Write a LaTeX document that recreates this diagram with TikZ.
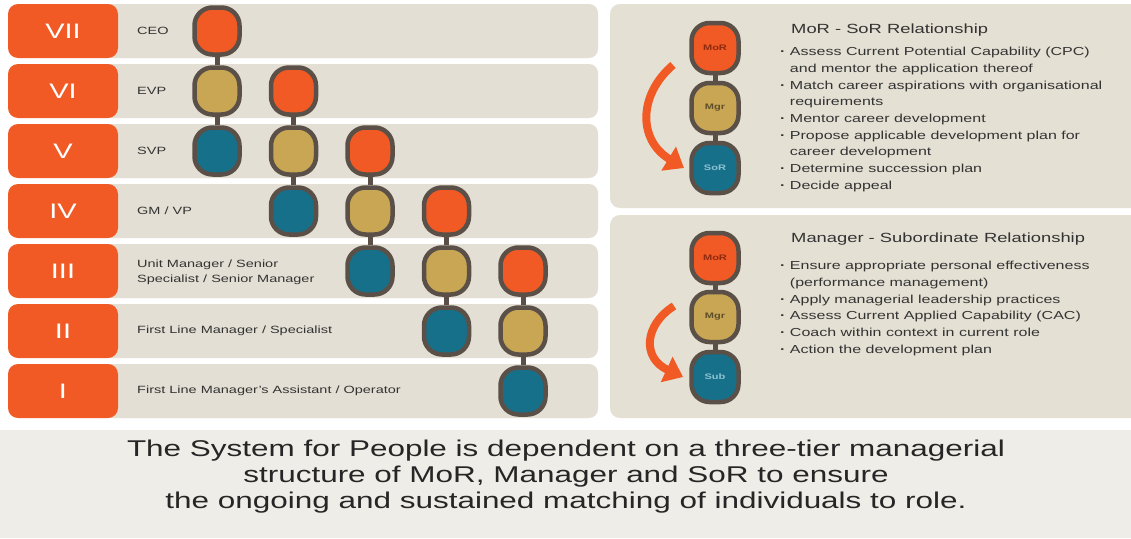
\documentclass[tikz,border=0pt]{standalone}
\usepackage{fontspec}
\setmainfont{Liberation Sans}[FakeStretch=1.38]
\usetikzlibrary{arrows.meta}

\definecolor{orng}{HTML}{F15A24}
\definecolor{tan}{HTML}{C8A654}
\definecolor{teal}{HTML}{17708A}
\definecolor{outl}{HTML}{5A5048}
\definecolor{bandgray}{HTML}{E3DFD4}
\definecolor{panelgray}{HTML}{E4E0D4}
\definecolor{footgray}{HTML}{EFEDE7}
\definecolor{txt}{HTML}{333333}
\definecolor{mortxt}{HTML}{8E2A10}
\definecolor{mgrtxt}{HTML}{5E4E2A}
\definecolor{sortxt}{HTML}{8CC2D2}

\newcommand\bul{{\bfseries·}}

\begin{document}
\begin{tikzpicture}[x=1pt,y=-1pt,
  band/.style={fill=bandgray, rounded corners=9pt},
  numbox/.style={fill=orng, rounded corners=10pt, minimum width=110pt,
    minimum height=54pt, inner sep=0pt, text=white,
    font=\fontsize{21}{21}\selectfont},
  rolelbl/.style={anchor=west, inner sep=0pt, text=txt, align=left,
    font=\fontsize{10.5}{15}\selectfont},
  pill/.style={draw=outl, line width=4.5pt, rounded corners=18pt,
    minimum width=45pt, minimum height=47pt, inner sep=0pt,
    font=\bfseries\fontsize{8}{8}\selectfont},
  bigpill/.style={minimum width=47pt, minimum height=50pt},
  po/.style={pill, fill=orng, text=mortxt},
  pt/.style={pill, fill=tan, text=mgrtxt},
  pb/.style={pill, fill=teal, text=sortxt},
  link/.style={draw=outl, line width=5pt},
  panel/.style={fill=panelgray, rounded corners=10pt},
  ptitle/.style={anchor=west, inner sep=0pt, text=txt,
    font=\fontsize{13.3}{16}\selectfont},
  plist/.style={anchor=north west, inner sep=0pt, text=txt, align=left,
    font=\fontsize{11.6}{16.7}\selectfont},
  bend arrow/.style={draw=orng, line width=8pt,
    -{Triangle[length=18pt,width=27pt]}},
]
% canvas
\path[use as bounding box, fill=white] (0,0) rectangle (1131,538);

% level bands
\foreach \r in {0,...,6}{
  \fill[band] (100,{4+60*\r}) rectangle (598,{58+60*\r});
}

% level numbers
\node[numbox] (n7) at (63,31)  {VII};
\node[numbox] (n6) at (63,91)  {VI};
\node[numbox] (n5) at (63,151) {V};
\node[numbox] (n4) at (63,211) {IV};
\node[numbox] (n3) at (63,271) {III};
\node[numbox] (n2) at (63,331) {II};
\node[numbox] (n1) at (63,391) {I};

% role names
\node[rolelbl] (r7) at (137,31)  {CEO};
\node[rolelbl] (r6) at (137,91)  {EVP};
\node[rolelbl] (r5) at (137,151) {SVP};
\node[rolelbl] (r4) at (137,211) {GM / VP};
\node[rolelbl] (r3) at (137,272) {Unit Manager / Senior\\Specialist / Senior Manager};
\node[rolelbl] (r2) at (137,331) {First Line Manager / Specialist};
\node[rolelbl] (r1) at (137,391) {First Line Manager's Assistant / Operator};

% three-tier chains
\foreach \j in {1,...,5}{
  \pgfmathsetmacro\xx{217+76.5*(\j-1)}
  \pgfmathsetmacro\ya{31+60*(\j-1)}
  \node[po] (o\j) at (\xx,\ya) {};
  \node[pt] (t\j) at (\xx,\ya+60) {};
  \node[pb] (b\j) at (\xx,\ya+120) {};
  \draw[link] (o\j.south) -- (t\j.north);
  \draw[link] (t\j.south) -- (b\j.north);
}

% right-hand panels
\fill[panel] (610,4) rectangle (1145,208);
\fill[panel] (610,215) rectangle (1145,418);

% MoR - SoR panel
\node[po, bigpill] (am) at (715,48)  {MoR};
\node[pt, bigpill] (ag) at (715,108) {Mgr};
\node[pb, bigpill] (as) at (715,168) {SoR};
\draw[link] (am.south) -- (ag.north);
\draw[link] (ag.south) -- (as.north);
\coordinate (aa1) at (673,65);
\coordinate (aa2) at (684,168);
\draw[bend arrow] (aa1) .. controls (638,95) and (638,140) .. (aa2);

\node[ptitle] (at) at (791,30) {MoR - SoR Relationship};
\node[plist] (al) at (780,47) {%
\bul{} Assess Current Potential Capability (CPC)\\
\phantom{\bul{} }and mentor the application thereof\\
\bul{} Match career aspirations with organisational\\
\phantom{\bul{} }requirements\\
\bul{} Mentor career development\\
\bul{} Propose applicable development plan for\\
\phantom{\bul{} }career development\\
\bul{} Determine succession plan\\
\bul{} Decide appeal};

% Manager - Subordinate panel
\node[po, bigpill] (bm) at (715,258) {MoR};
\node[pt, bigpill] (bg) at (715,317) {Mgr};
\node[pb, bigpill] (bs) at (715,377) {Sub};
\draw[link] (bm.south) -- (bg.north);
\draw[link] (bg.south) -- (bs.north);
\coordinate (ba1) at (674,306);
\coordinate (ba2) at (683,377);
\draw[bend arrow] (ba1) .. controls (644,325) and (642,358) .. (ba2);

\node[ptitle] (bt) at (791,239) {Manager - Subordinate Relationship};
\node[plist] (bl) at (780,261) {%
\bul{} Ensure appropriate personal effectiveness\\
\phantom{\bul{} }(performance management)\\
\bul{} Apply managerial leadership practices\\
\bul{} Assess Current Applied Capability (CAC)\\
\bul{} Coach within context in current role\\
\bul{} Action the development plan};

% footer statement
\fill[footgray] (0,430) rectangle (1131,538);
\node[align=center, inner sep=0pt, text=black!85,
  font=\fontsize{22.8}{26}\selectfont] (foot) at (566,477)
  {The System for People is dependent on a three-tier managerial\\
   structure of MoR, Manager and SoR to ensure\\
   the ongoing and sustained matching of individuals to role.};
\end{tikzpicture}
\end{document}
